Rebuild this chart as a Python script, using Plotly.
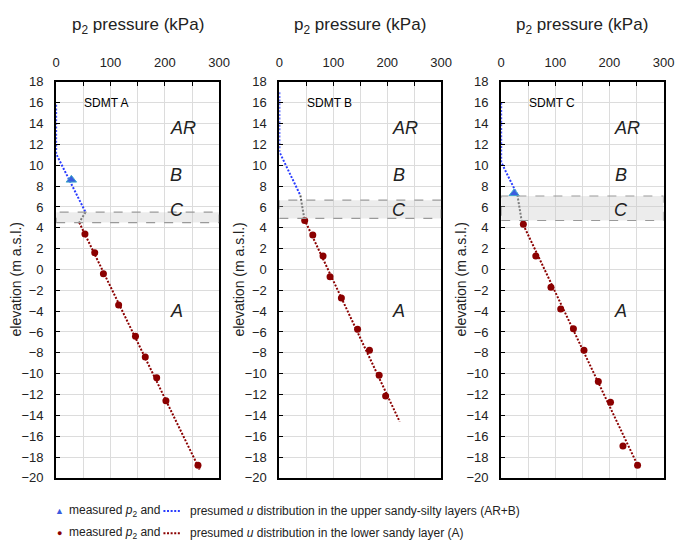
import plotly.graph_objects as go

# ---------------- data ----------------
# Panel A (SDMT A)
A_tri_p = [28]
A_tri_z = [8.6]
A_circ_p = [53, 71, 87, 115, 146, 164, 185, 202, 261]
A_circ_z = [3.4, 1.6, -0.4, -3.4, -6.4, -8.4, -10.4, -12.6, -18.8]
A_blue_p = [0, 0, 54]
A_blue_z = [15.8, 11.1, 5.5]
A_grey_p = [54, 42.5]
A_grey_z = [5.5, 4.5]
A_red_p = [42.5, 264]
A_red_z = [4.5, -19.2]
A_band = [4.5, 5.5]

# Panel B (SDMT B)
B_tri_p = []
B_tri_z = []
B_circ_p = [47, 62, 81, 94, 115, 145, 167, 185, 197]
B_circ_z = [4.7, 3.3, 1.3, -0.7, -2.75, -5.75, -7.75, -10.15, -12.15]
B_blue_p = [0, 0, 39]
B_blue_z = [17.0, 11.3, 7.1]
B_grey_p = [39, 46.5]
B_grey_z = [7.1, 4.8]
B_red_p = [46.5, 223]
B_red_z = [4.8, -14.6]
B_band = [4.9, 6.65]

# Panel C (SDMT C)
C_tri_p = [24]
C_tri_z = [7.3]
C_circ_p = [41, 64, 92, 110, 133.5, 153, 179.5, 202, 225, 252]
C_circ_z = [4.35, 1.3, -1.7, -3.8, -5.7, -7.75, -10.75, -12.75, -16.95, -18.8]
C_blue_p = [0, 0, 30]
C_blue_z = [16.0, 10.3, 7.15]
C_grey_p = [30, 38]
C_grey_z = [7.15, 4.6]
C_red_p = [38, 254]
C_red_z = [4.6, -19.0]
C_band = [4.7, 7.05]

panel_names = ["SDMT A", "SDMT B", "SDMT C"]
layer_labels = ["AR", "B", "C", "A"]
layer_label_p = [233, 221, 222, 221]
layer_label_z = [13.6, 9.1, 5.7, -4.0]
x_ticks = [0, 50, 100, 150, 200, 250, 300]
x_ticktext = ["0", "", "100", "", "200", "", "300"]
y_ticks = list(range(-20, 19, 2))

# ---------------- figure ----------------
W, H = 685, 552
BLUE = "#2a3cff"
TRI = "#3a5ce0"
RED = "#8b0000"
GREY = "#555555"
DOT = "2px,1.6px"
TICKFONT = dict(family="Liberation Sans Narrow, Arial Narrow, Liberation Sans, Arial", size=13, color="#222")
TXT = "Liberation Sans, Arial, sans-serif"

panels = [
    (A_tri_p, A_tri_z, A_circ_p, A_circ_z, A_blue_p, A_blue_z, A_grey_p, A_grey_z, A_red_p, A_red_z, A_band),
    (B_tri_p, B_tri_z, B_circ_p, B_circ_z, B_blue_p, B_blue_z, B_grey_p, B_grey_z, B_red_p, B_red_z, B_band),
    (C_tri_p, C_tri_z, C_circ_p, C_circ_z, C_blue_p, C_blue_z, C_grey_p, C_grey_z, C_red_p, C_red_z, C_band),
]
xdomains_px = [(53.3, 220.0), (281.5, 447.0), (508.3, 674.3)]
ydom = (1 - 484.0 / H, 1 - 77.0 / H)

fig = go.Figure()
layout = dict(
    width=W, height=H, margin=dict(l=0, r=0, t=0, b=0),
    paper_bgcolor="white", plot_bgcolor="white", showlegend=False,
)
shapes = []
annotations = []

for i, (tp, tz, cp, cz, bp, bz, gp, gz, rp, rz, band) in enumerate(panels):
    n = "" if i == 0 else str(i + 1)
    xa, ya = "x" + n, "y" + n
    x0, x1 = xdomains_px[i]
    layout["xaxis" + n] = dict(
        domain=[x0 / W, x1 / W], range=[0, 300], side="top", anchor=ya,
        tickvals=x_ticks, ticktext=x_ticktext, ticks="inside", ticklen=4,
        tickcolor="black", showgrid=True, gridcolor="#dcdcdc", gridwidth=1,
        showline=True, linecolor="black", linewidth=2, mirror=True,
        zeroline=False, tickfont=TICKFONT, ticklabelstandoff=8, fixedrange=True,
    )
    layout["yaxis" + n] = dict(
        domain=list(ydom), range=[-20, 18], anchor=xa,
        tickvals=y_ticks, ticks="inside", ticklen=4, tickcolor="black",
        showgrid=True, gridcolor="#dcdcdc", gridwidth=1,
        showline=True, linecolor="black", linewidth=2, mirror=True,
        zeroline=False, tickfont=TICKFONT, ticklabelstandoff=8, fixedrange=True,
    )
    # C layer band
    shapes.append(dict(type="rect", xref=xa, yref=ya, x0=0, x1=300, y0=band[0], y1=band[1],
                       fillcolor="rgba(200,200,200,0.35)", line=dict(color="#999999", width=1.2, dash="dash"),
                       layer="above"))
    fig.add_trace(go.Scatter(x=bp, y=bz, xaxis=xa, yaxis=ya, mode="lines",
                             line=dict(color=BLUE, width=2, dash=DOT)))
    fig.add_trace(go.Scatter(x=gp, y=gz, xaxis=xa, yaxis=ya, mode="lines",
                             line=dict(color=GREY, width=2, dash=DOT)))
    fig.add_trace(go.Scatter(x=rp, y=rz, xaxis=xa, yaxis=ya, mode="lines",
                             line=dict(color=RED, width=2, dash=DOT)))
    fig.add_trace(go.Scatter(x=cp, y=cz, xaxis=xa, yaxis=ya, mode="markers",
                             marker=dict(color=RED, size=7, symbol="circle")))
    if tp:
        fig.add_trace(go.Scatter(x=tp, y=tz, xaxis=xa, yaxis=ya, mode="markers",
                                 marker=dict(color=TRI, size=9, symbol="triangle-up",
                                             line=dict(color="#3fa9c9", width=1))))
    # panel name
    annotations.append(dict(xref=xa, yref=ya, x=47, y=16, text=panel_names[i], showarrow=False,
                            xanchor="left", yanchor="middle", font=dict(family=TXT, size=12, color="black")))
    for lab, lp, lz in zip(layer_labels, layer_label_p, layer_label_z):
        annotations.append(dict(xref=xa, yref=ya, x=lp, y=lz, text="<i>" + lab + "</i>", showarrow=False,
                                xanchor="center", yanchor="middle",
                                font=dict(family=TXT, size=18, color="#222")))
    # title
    annotations.append(dict(xref="paper", yref="paper", x=(x0 + x1) / 2 / W, y=1 - 20 / H,
                            text="p<sub>2</sub> pressure (kPa)", showarrow=False,
                            xanchor="center", yanchor="middle", font=dict(family=TXT, size=17, color="#222")))
    # y title
    annotations.append(dict(xref="paper", yref="paper", x=(x0 - 41) / W, y=1 - 280 / H,
                            text="elevation (m a.s.l.)", showarrow=False, textangle=-90,
                            xanchor="center", yanchor="middle", font=dict(family=TXT, size=14, color="#222")))

# custom legend
leg_rows = [
    ("▲", TRI, 9, BLUE, "presumed <i>u</i> distribution in the upper sandy-silty layers (AR+B)", 518),
    ("●", RED, 9, RED, "presumed <i>u</i> distribution in the lower sandy layer (A)", 541),
]
for sym, scol, ssz, lcol, txt, yy in leg_rows:
    annotations.append(dict(xref="paper", yref="paper", x=57 / W, y=1 - yy / H, text=sym, showarrow=False,
                            xanchor="center", yanchor="middle", font=dict(family=TXT, size=ssz, color=scol)))
    annotations.append(dict(xref="paper", yref="paper", x=64 / W, y=1 - yy / H,
                            text="measured <i>p</i><sub>2</sub> and", showarrow=False,
                            xanchor="left", yanchor="middle", font=dict(family=TXT, size=12, color="#222")))
    shapes.append(dict(type="line", xref="paper", yref="paper", x0=163 / W, x1=181 / W,
                       y0=1 - yy / H, y1=1 - yy / H, line=dict(color=lcol, width=2, dash=DOT)))
    annotations.append(dict(xref="paper", yref="paper", x=188 / W, y=1 - yy / H, text=txt, showarrow=False,
                            xanchor="left", yanchor="middle", font=dict(family=TXT, size=12, color="#222")))

layout["shapes"] = shapes
layout["annotations"] = annotations
fig.update_layout(**layout)

post = ("document.body.style.margin='0';document.body.style.overflow='hidden';"
        "document.documentElement.style.overflow='hidden';")
fig.write_html("out.html", config={"displayModeBar": False}, post_script=post)
